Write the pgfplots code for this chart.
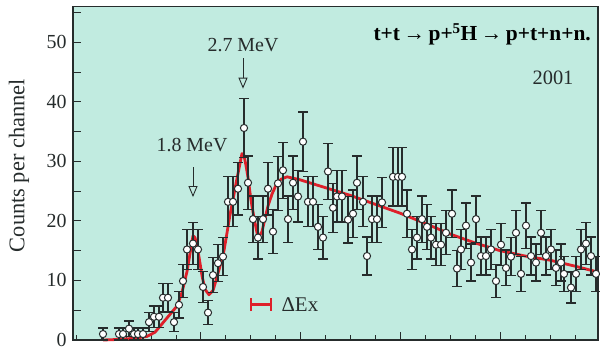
\documentclass[border=0pt]{standalone}
\usepackage{fontspec}
\setmainfont{Liberation Serif}
\usepackage{pgfplots}
\usepackage{pgfplotstable}
\pgfplotsset{compat=1.18}
\usetikzlibrary{arrows.meta}
\definecolor{bgc}{RGB}{193,235,224}
\definecolor{fitred}{RGB}{222,32,42}
\definecolor{dk}{RGB}{38,44,44}

\pgfplotstableread{
x y e
103 1.0 1.0
119 1.0 1.0
123 1.0 1.0
129 1.9 1.3
134 1.0 1.0
138 1.0 1.0
143 1.0 1.0
149 3.0 1.6
154 3.9 1.8
159 3.9 1.8
163 7.1 2.4
168 7.1 2.4
174 3.0 1.6
179 5.9 2.2
183 9.9 2.8
187 15.2 3.4
193 16.2 3.5
198 15.2 3.4
203 8.9 2.6
208 4.6 2.0
213 10.9 2.9
218 12.9 3.1
223 14.0 3.2
228 23.2 4.2
233 23.2 4.2
238 25.4 4.4
244 35.6 5.0
248 26.4 4.5
253 20.3 3.9
258 17.2 3.6
263 20.3 3.9
268 25.4 4.4
273 18.2 3.7
278 26.3 4.5
283 28.5 4.7
288 20.3 3.9
293 26.4 4.5
298 24.1 4.3
303 33.3 5.0
308 23.2 4.2
313 23.2 4.2
318 19.0 3.8
323 17.2 3.6
328 28.3 4.7
333 22.2 4.1
337 24.1 4.3
342 24.1 4.3
348 20.2 3.9
353 21.2 4.0
357 26.4 4.5
363 23.2 4.2
367 14.1 3.2
372 20.3 3.9
377 20.3 3.9
382 23.1 4.2
393 27.4 4.9
398 27.4 4.9
402 27.4 4.9
407 21.2 4.0
412 15.2 3.4
417 17.2 3.6
422 20.3 3.9
427 19.0 3.8
431 17.2 3.6
436 16.0 3.5
441 16.0 3.5
446 18.0 3.7
452 21.2 4.0
457 12.0 3.0
461 15.2 3.4
466 19.2 3.8
471 13.0 3.1
476 20.3 3.9
481 14.1 3.2
486 14.1 3.2
491 15.2 3.4
496 9.9 2.8
501 16.0 3.5
506 12.1 3.0
511 14.0 3.2
516 18.0 3.7
521 11.1 2.9
526 19.2 3.8
531 14.1 3.2
536 13.0 3.1
541 18.0 3.7
546 14.1 3.2
551 15.2 3.4
556 12.1 3.0
561 13.0 3.1
564 11.1 2.9
571 8.8 2.6
576 11.1 2.9
581 15.2 3.4
586 16.2 3.5
591 14.1 3.2
596 11.1 2.9
}\datatab

\pgfplotstableread{
x y
103 0.0
120 0.1
135 0.3
147 0.6
155 1.3
163 2.9
170 4.3
177 5.7
182 8.0
187 11.5
190 14.5
193 17.5
195 17.2
198 15.0
202 10.8
205 8.5
209 7.6
213 8.3
216 10.0
220 12.4
224 15.0
227 18.0
230 21.0
233 23.6
236 26.3
239 28.8
242 31.3
244 31.0
246 29.3
248 27.3
251 23.5
254 20.5
257 18.0
259 17.4
262 18.2
265 20.4
268 22.5
272 24.5
276 26.0
281 27.0
287 27.4
295 27.1
300 26.9
325 25.6
350 24.3
375 22.8
400 21.3
425 19.6
450 17.8
475 16.3
500 15.0
525 14.1
550 13.4
575 12.4
598 11.4
}\fittab

\begin{document}
\begin{tikzpicture}
\path[use as bounding box] (-73bp,-8bp) rectangle (527bp,340bp);
\begin{axis}[
  at={(0,0)}, anchor=south west,
  scale only axis, width=525bp, height=333.5bp,
  xmin=73, xmax=598, ymin=0, ymax=56,
  axis background/.style={fill=bgc},
  axis line style={dk, line width=1.4bp},
  xtick pos=bottom, ytick pos=left,
  tick align=inside,
  tick style={dk, line width=0.9bp},
  major tick length=8bp, minor tick length=5bp,
  xtick={200,300,400,500},
  minor xtick={76,101,126,151,176,225,250,275,325,350,375,425,450,475,525,550,575},
  xticklabels={},
  ytick={0,5,...,55},
  yticklabels={0,,10,,20,,30,,40,,50,},
  /pgf/number format/assume math mode=true,
  yticklabel style={font=\fontsize{20}{22}\selectfont, text=dk, xshift=-3bp},
  ylabel={Counts per channel},
  ylabel style={font=\fontsize{22.5}{24}\selectfont, text=dk, at={(axis description cs:-0.103,0.523)}, anchor=center},
  clip=false,
]
\addplot[fitred, line width=2.8bp, line join=round] table[x=x,y=y] {\fittab};
\addplot[only marks, mark=*, mark size=3.6bp,
  mark options={fill=white, draw=dk, line width=1bp},
  error bars/.cd, y dir=both, y explicit,
  error bar style={dk, line width=1.25bp},
  error mark options={dk, line width=1.25bp, rotate=90, mark size=5bp}]
  table[x=x, y=y, y error=e] {\datatab};
\addplot[fitred, line width=2.2bp, {Bar[width=13bp]}-{Bar[width=13bp]}] coordinates {(250,5.95) (272,5.95)};

\node[font=\fontsize{21}{23}\selectfont, text=dk, anchor=west] at (axis cs:278,5.95) {ΔEx};
\node[font=\fontsize{20}{22}\selectfont, text=dk] at (axis cs:192,32.8) {1.8 MeV};
\draw[dk, line width=0.9bp, -{Triangle[open, length=11bp, width=9bp]}] (axis cs:193,29.0) -- (axis cs:193,24.0);
\node[font=\fontsize{20}{22}\selectfont, text=dk] at (axis cs:243,49.6) {2.7 MeV};
\draw[dk, line width=0.9bp, -{Triangle[open, length=11bp, width=9bp]}] (axis cs:243,47.3) -- (axis cs:243,42.2);
\node[font=\bfseries\fontsize{21.5}{23}\selectfont, text=black, anchor=east, inner sep=0pt] at (axis cs:591,51.3) {t+t\,→\,p+\textsuperscript{5}H\,→\,p+t+n+n.};
\node[font=\fontsize{20.5}{22}\selectfont, text=dk] at (axis cs:553,44.0) {2001};
\end{axis}
\end{tikzpicture}
\end{document}
